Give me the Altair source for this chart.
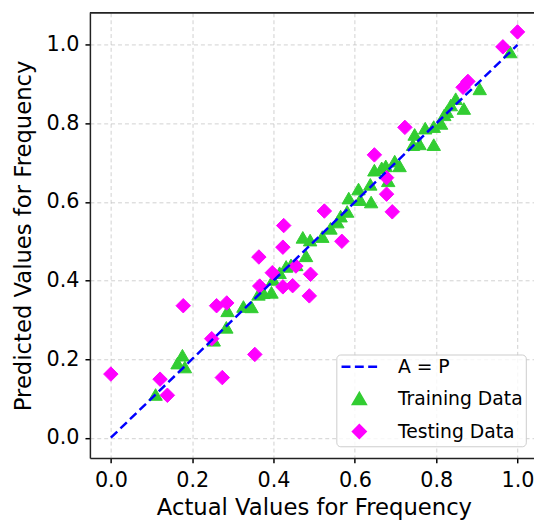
import altair as alt
import pandas as pd

# ---- data ----
train_x = [0.110, 0.164, 0.176, 0.182, 0.253, 0.284, 0.287, 0.326, 0.346, 0.363,
           0.375, 0.395, 0.399, 0.415, 0.431, 0.443, 0.456, 0.472, 0.490, 0.480,
           0.520, 0.540, 0.557, 0.565, 0.581, 0.585, 0.609, 0.613, 0.638, 0.640,
           0.648, 0.666, 0.676, 0.682, 0.698, 0.710, 0.743, 0.747, 0.759, 0.773,
           0.794, 0.794, 0.812, 0.820, 0.826, 0.836, 0.848, 0.868, 0.907, 0.982]
train_y = [0.110, 0.190, 0.210, 0.180, 0.248, 0.281, 0.323, 0.334, 0.333, 0.365,
           0.369, 0.370, 0.403, 0.420, 0.436, 0.440, 0.440, 0.510, 0.503, 0.463,
           0.512, 0.533, 0.549, 0.564, 0.576, 0.610, 0.633, 0.606, 0.645, 0.600,
           0.681, 0.687, 0.692, 0.654, 0.704, 0.692, 0.746, 0.772, 0.748, 0.788,
           0.792, 0.746, 0.800, 0.822, 0.830, 0.847, 0.863, 0.838, 0.888, 0.982]
test_x = [0.000, 0.121, 0.139, 0.178, 0.248, 0.260, 0.285, 0.274, 0.354, 0.364,
          0.366, 0.397, 0.423, 0.425, 0.423, 0.447, 0.455, 0.488, 0.491, 0.525,
          0.568, 0.648, 0.678, 0.678, 0.692, 0.723, 0.866, 0.878, 0.964, 1.000]
test_y = [0.162, 0.149, 0.108, 0.336, 0.252, 0.336, 0.343, 0.153, 0.212, 0.460,
          0.386, 0.420, 0.485, 0.540, 0.384, 0.387, 0.437, 0.361, 0.416, 0.577,
          0.500, 0.720, 0.662, 0.620, 0.575, 0.790, 0.892, 0.907, 0.995, 1.033]
ap_x = [0.0, 1.0]
ap_y = [0.0, 1.0]

series_names = ["A = P", "Training Data", "Testing Data"]
series_colors = ["#0000FF", "#32CD32", "#FF00FF"]
tick_values = [0.0, 0.2, 0.4, 0.6, 0.8, 1.0]

# legend glyph for the dashed identity line (unit coordinates of a symbol)
dash_glyph = "M-2.85,0H-1.42M-0.71,0H0.71M1.42,0H2.85"

points = pd.DataFrame({
    "actual": train_x + test_x,
    "predicted": train_y + test_y,
    "series": ["Training Data"] * len(train_x) + ["Testing Data"] * len(test_x),
})
ap = pd.DataFrame({"actual": ap_x, "predicted": ap_y})

W, H = 450, 451
font = "DejaVu Sans"

x_scale = alt.Scale(domain=[-0.0515, 1.0405], nice=False, zero=False)
y_scale = alt.Scale(domain=[-0.0515, 1.0815], nice=False, zero=False)

x_axis = alt.Axis(values=tick_values, format=".1f", title="Actual Values for Frequency",
                  labelFontSize=21, titleFontSize=23, labelFont=font, titleFont=font,
                  labelColor="black", titleColor="black", titleFontWeight="normal",
                  tickSize=5, tickWidth=1.5, tickColor="black", labelPadding=7,
                  domainColor="#222222", domainWidth=1.5,
                  grid=True, gridColor="#b0b0b0", gridOpacity=0.6, gridDash=[4, 3], gridWidth=1,
                  titleX=227, titleY=57.3, titleBaseline="alphabetic", titleAnchor="middle")
y_axis = alt.Axis(values=tick_values, format=".1f", title="Predicted Values for Frequency",
                  labelFontSize=21, titleFontSize=23, labelFont=font, titleFont=font,
                  labelColor="black", titleColor="black", titleFontWeight="normal",
                  tickSize=5, tickWidth=1.5, tickColor="black", labelPadding=6,
                  domainColor="#222222", domainWidth=1.5,
                  grid=True, gridColor="#b0b0b0", gridOpacity=0.6, gridDash=[4, 3], gridWidth=1,
                  titleX=-60, titleY=225.5, titleBaseline="alphabetic", titleAngle=270,
                  titleAlign="center")

legend = alt.Legend(title=None, orient="none", legendX=249.7, legendY=346.2,
                    padding=3, symbolOffset=10.8, labelOffset=29.6, rowPadding=11.3,
                    titlePadding=0,
                    symbolSize=160, symbolStrokeWidth=2.5, symbolOpacity=1,
                    labelFontSize=19, labelFont=font, labelColor="black",
                    fillColor="rgba(255,255,255,0.8)", strokeColor="#cccccc",
                    cornerRadius=4)

scatter = alt.Chart(points).mark_point(filled=True, opacity=1, strokeWidth=1).encode(
    x=alt.X("actual:Q", scale=x_scale, axis=x_axis),
    y=alt.Y("predicted:Q", scale=y_scale, axis=y_axis),
    fill=alt.Fill("series:N", scale=alt.Scale(domain=series_names, range=series_colors), legend=legend),
    stroke=alt.Stroke("series:N", scale=alt.Scale(domain=series_names, range=series_colors), legend=legend),
    shape=alt.Shape("series:N", scale=alt.Scale(domain=series_names,
                                                range=[dash_glyph, "triangle-up", "diamond"]), legend=legend),
    size=alt.Size("series:N", scale=alt.Scale(domain=["Training Data", "Testing Data"], range=[185, 215]),
                  legend=None),
)

line = alt.Chart(ap).mark_line(color="#0000FF", strokeWidth=2.5, strokeDash=[9, 4.5]).encode(
    x=alt.X("actual:Q", scale=x_scale),
    y=alt.Y("predicted:Q", scale=y_scale),
)

top_spine = alt.Chart(ap).mark_rule(color="#222222", strokeWidth=1.5).encode(
    x=alt.value(0), x2=alt.value(W), y=alt.value(0)
)

chart = alt.layer(scatter, line, top_spine).properties(
    width=W, height=H,
    autosize=alt.AutoSizeParams(type="none"),
    padding={"left": 83, "top": 1.5, "right": 0, "bottom": 61.5},
    background="white",
).configure_view(stroke=None)

chart.save("out.html", embed_options={"renderer": "svg", "actions": False})
